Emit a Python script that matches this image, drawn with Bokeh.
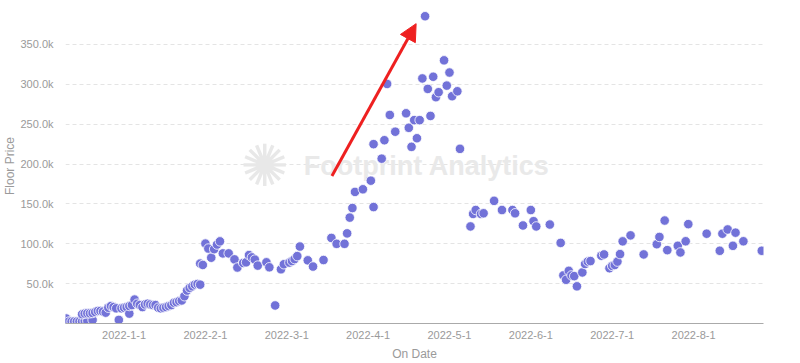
import calendar
from bokeh.plotting import figure
from bokeh.models import FixedTicker, Range1d, Label, Arrow, NormalHead, ColumnDataSource
from bokeh.embed import file_html
from bokeh.resources import INLINE

dates = [
    "2021-12-10", "2021-12-11", "2021-12-12", "2021-12-13", "2021-12-14", "2021-12-15",
    "2021-12-16", "2021-12-17", "2021-12-18", "2021-12-20",
    "2021-12-16", "2021-12-17", "2021-12-18", "2021-12-19", "2021-12-20", "2021-12-21",
    "2021-12-22", "2021-12-23", "2021-12-24", "2021-12-25", "2021-12-26", "2021-12-27",
    "2021-12-28", "2021-12-29", "2021-12-30", "2021-12-31",
    "2022-01-01", "2022-01-02", "2022-01-03", "2022-01-03", "2022-01-04", "2022-01-05",
    "2022-01-06", "2022-01-07", "2022-01-08", "2022-01-09", "2022-01-10", "2022-01-11",
    "2022-01-12", "2022-01-13", "2022-01-14", "2022-01-15", "2022-01-16", "2022-01-17",
    "2022-01-18", "2022-01-19", "2022-01-20", "2022-01-21", "2022-01-22", "2022-01-23",
    "2022-01-24", "2022-01-25", "2022-01-26", "2022-01-27", "2022-01-28", "2022-01-29",
    "2022-01-30", "2022-01-30", "2022-01-31",
    "2022-02-01", "2022-02-02", "2022-02-03", "2022-02-04", "2022-02-05", "2022-02-06",
    "2022-02-07", "2022-02-09", "2022-02-11", "2022-02-12", "2022-02-14", "2022-02-15",
    "2022-02-16", "2022-02-17", "2022-02-18", "2022-02-19", "2022-02-22", "2022-02-23",
    "2022-02-25", "2022-02-27", "2022-02-28",
    "2022-03-02", "2022-03-03", "2022-03-04", "2022-03-05", "2022-03-06", "2022-03-09",
    "2022-03-11", "2022-03-15", "2022-03-18", "2022-03-20", "2022-03-23", "2022-03-24",
    "2022-03-25", "2022-03-26", "2022-03-27", "2022-03-30",
    "2022-04-02", "2022-04-03", "2022-04-03", "2022-04-06", "2022-04-07", "2022-04-08",
    "2022-04-09", "2022-04-11", "2022-04-15", "2022-04-16", "2022-04-17", "2022-04-18",
    "2022-04-19", "2022-04-20", "2022-04-21", "2022-04-22", "2022-04-23", "2022-04-24",
    "2022-04-25", "2022-04-26", "2022-04-27", "2022-04-29", "2022-04-30",
    "2022-05-01", "2022-05-02", "2022-05-04", "2022-05-05", "2022-05-09", "2022-05-10",
    "2022-05-11", "2022-05-13", "2022-05-14", "2022-05-18", "2022-05-21", "2022-05-25",
    "2022-05-26", "2022-05-29",
    "2022-06-01", "2022-06-02", "2022-06-03", "2022-06-08", "2022-06-12", "2022-06-13",
    "2022-06-14", "2022-06-15", "2022-06-16", "2022-06-17", "2022-06-18", "2022-06-20",
    "2022-06-21", "2022-06-22", "2022-06-23", "2022-06-27", "2022-06-28", "2022-06-30",
    "2022-07-01", "2022-07-02", "2022-07-03", "2022-07-04", "2022-07-05", "2022-07-08",
    "2022-07-13", "2022-07-18", "2022-07-19", "2022-07-21", "2022-07-22", "2022-07-26",
    "2022-07-27", "2022-07-29", "2022-07-30",
    "2022-08-06", "2022-08-11", "2022-08-12", "2022-08-14", "2022-08-16", "2022-08-17",
    "2022-08-20", "2022-08-27",
]

floor_price = [
    6200, 2500, 2500, 2500, 2500, 2500,
    2500, 3300, 3300, 4500,
    11600, 12400, 12800, 12800, 13200, 14400,
    15700, 15700, 14900, 13600, 19800, 21900,
    20600, 19000, 4500, 19000,
    19800, 20600, 12400, 21900, 23100, 30000,
    24800, 23100, 20600, 23900, 24800, 23900,
    23100, 23100, 19800, 19000, 19800, 20600,
    21900, 23100, 26000, 26800, 28100, 28900,
    34200, 41300, 44600, 46600, 48700, 49500,
    48700, 75100, 73400,
    100200, 94000, 82500, 93200, 99000, 103000,
    87900, 87900, 80400, 70200, 75900, 76700,
    85800, 82900, 80100, 72600, 76700, 70500,
    22600, 68000, 74300,
    76400, 78300, 80800, 84500, 96500, 79200,
    71400, 79600, 107300, 99900, 99900, 113000,
    132800, 144800, 165000, 168300,
    179100, 146000, 224900, 206700, 229800, 300400,
    261500, 240500, 263600, 245400, 221500, 255000,
    232300, 255000, 307300, 385300, 294200, 260300,
    309400, 283800, 290000, 330000, 298300,
    314700, 285000, 291200, 219000, 121700, 137400,
    142300, 137400, 138200, 153800, 142300, 142300,
    138200, 122900,
    142300, 128300, 121700, 124100, 101100, 60300,
    54800, 66000, 60300, 59400, 46600, 64000,
    74600, 77600, 78300, 85000, 86600, 69300,
    72200, 73400, 77600, 87000, 103000, 110500,
    86600, 99400, 108500, 129100, 92000, 97400,
    89100, 103100, 124600,
    112600, 91200, 112600, 117900, 97400, 113900,
    103100, 91200,
]

month_labels = ["2022-1-1", "2022-2-1", "2022-3-1", "2022-4-1",
                "2022-5-1", "2022-6-1", "2022-7-1", "2022-8-1"]
y_ticks = [50000, 100000, 150000, 200000, 250000, 300000, 350000]


def month_pos(s):
    y, m, d = map(int, s.split("-"))
    return (y - 2022) * 12 + (m - 1) + (d - 1) / calendar.monthrange(y, m)[1]


src = ColumnDataSource(dict(x=[month_pos(d) for d in dates], y=floor_price))

FONT = "Liberation Sans"
GRAY = "#9a9a9a"
X0, X1 = -0.72, 7.86

p = figure(width=800, height=363, output_backend="svg", toolbar_location=None,
           x_range=Range1d(X0, X1), y_range=Range1d(0, 395000),
           min_border_left=63, min_border_right=37, min_border_top=8, min_border_bottom=38)
p.outline_line_color = None
p.background_fill_color = "white"
p.border_fill_color = "white"

# watermark
p.add_layout(Label(x=1.73, y=197000, text="✺", text_font="DejaVu Sans",
                   text_font_size="58px", text_color="#e8e8e8", text_align="center",
                   text_baseline="middle", level="underlay"))
p.add_layout(Label(x=3.72, y=197000, text="Footprint Analytics", text_font=FONT,
                   text_font_size="27px", text_font_style="bold", text_color="#e9e9e9",
                   text_align="center", text_baseline="middle", level="underlay"))

p.scatter("x", "y", source=src, size=9.5, fill_color="#7272d8", fill_alpha=1.0,
          line_color="white", line_width=0.8)

# red arrow annotation
p.add_layout(Arrow(end=NormalHead(size=17, fill_color="#ee2020", line_color="#ee2020"),
                   x_start=2.555, y_start=185000, x_end=3.59, y_end=376000,
                   line_color="#ee2020", line_width=3))

p.xaxis.ticker = FixedTicker(ticks=list(range(len(month_labels))))
p.xaxis.major_label_overrides = {i: lab for i, lab in enumerate(month_labels)}
p.xaxis.axis_label = "On Date"
p.xaxis.axis_line_color = "#aaaaaa"
p.xaxis.major_tick_line_color = None
p.xaxis.minor_tick_line_color = None
p.xaxis.major_label_standoff = 1
p.xaxis.axis_label_standoff = 5

p.yaxis.ticker = FixedTicker(ticks=y_ticks)
p.yaxis.major_label_overrides = {t: f"{t/1000:.1f}k" for t in y_ticks}
p.yaxis.axis_label = "Floor Price"
p.yaxis.axis_line_color = None
p.yaxis.major_tick_line_color = None
p.yaxis.minor_tick_line_color = None
p.yaxis.major_label_standoff = 6
p.yaxis.axis_label_standoff = 0

for ax in (p.xaxis, p.yaxis):
    ax.major_label_text_font = FONT
    ax.major_label_text_font_size = "11px"
    ax.major_label_text_color = GRAY
    ax.axis_label_text_font = FONT
    ax.axis_label_text_font_size = "12px"
    ax.axis_label_text_font_style = "normal"
    ax.axis_label_text_color = GRAY

p.xgrid.grid_line_color = None
p.ygrid.ticker = FixedTicker(ticks=y_ticks)
p.ygrid.grid_line_color = "#e4e4e4"
p.ygrid.grid_line_dash = "4 3"

open("out.html", "w").write(file_html(p, INLINE))
